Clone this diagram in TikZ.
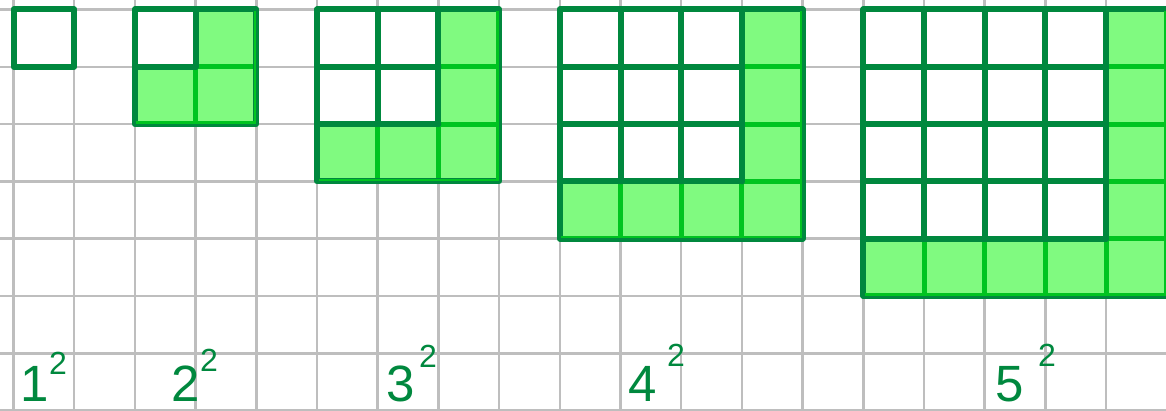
\documentclass[tikz,border=0pt]{standalone}
\usepackage{fontspec}
\setmainfont{Liberation Sans}
\definecolor{dkg}{RGB}{0,136,62}
\definecolor{brg}{RGB}{0,196,32}
\definecolor{ltg}{RGB}{128,250,128}
\definecolor{grd}{RGB}{190,190,190}
\tikzset{
  gridline/.style={grd,line width=2.5pt},
  dkline/.style={dkg,line width=6pt,line cap=round,line join=round},
  brline/.style={brg,line width=5pt,line cap=round},
  brrim/.style={brg,line width=2.5pt},
  digit/.style={dkg,inner sep=0pt,anchor=base west,text depth=0pt,text height=37pt,font=\fontsize{51}{51}\selectfont},
  supd/.style={dkg,inner sep=0pt,anchor=base west,text depth=0pt,text height=23pt,font=\fontsize{32}{32}\selectfont}
}
\newcommand\drawsq[2]{%
  \pgfmathtruncatemacro\nn{#1-1}%
  \ifnum#1>1
    \fill[ltg] ({13.5+60.7*(#2+#1-1)},9.5) rectangle ({13.5+60.7*(#2+#1)},{9.5+57.3*#1});
    \fill[ltg] ({13.5+60.7*#2},{9.5+57.3*(#1-1)}) rectangle ({13.5+60.7*(#2+#1)},{9.5+57.3*#1});
    \foreach \k in {1,...,\nn}{
      \draw[brline] ({13.5+60.7*(#2+\k)},{9.5+57.3*(#1-1)}) -- ++(0,57.3);
      \draw[brline] ({13.5+60.7*(#2+#1-1)},{9.5+57.3*\k}) -- ++(60.7,0);
    }
    \foreach \k in {1,...,\nn}{
      \draw[dkline] ({13.5+60.7*(#2+\k)},9.5) -- ({13.5+60.7*(#2+\k)},{9.5+57.3*(#1-1)});
      \draw[dkline] ({13.5+60.7*#2},{9.5+57.3*\k}) -- ({13.5+60.7*(#2+#1-1)},{9.5+57.3*\k});
    }
  \fi
  \draw[dkline] ({13.5+60.7*#2},9.5) rectangle ({13.5+60.7*(#2+#1)},{9.5+57.3*#1});
  \ifnum#1>1
    \draw[brrim] ({13.5+60.7*(#2+#1)-1.5},11) -- ({13.5+60.7*(#2+#1)-1.5},{9.5+57.3*#1-1.5})
                 -- ({13.5+60.7*#2+1.5},{9.5+57.3*#1-1.5});
  \fi
}
\begin{document}
\begin{tikzpicture}[x=1pt,y=-1pt]
\useasboundingbox (0,0) rectangle (1166,411);
\fill[white] (0,0) rectangle (1166,411);
\foreach \i in {0,...,18} \draw[gridline] ({13.5+60.7*\i},0) -- ({13.5+60.7*\i},411);
\foreach \j in {0,...,7} \draw[gridline] (0,{9.5+57.3*\j}) -- (1166,{9.5+57.3*\j});
\drawsq{1}{0}
\drawsq{2}{2}
\drawsq{3}{5}
\drawsq{4}{9}
\drawsq{5}{14}
\node[digit] (d1) at (20,401) {1};
\node[supd] (s1) at (49,374) {2};
\node[digit] (d2) at (171,401) {2};
\node[supd] (s2) at (200,371) {2};
\node[digit] (d3) at (386,401) {3};
\node[supd] (s3) at (419,367) {2};
\node[digit] (d4) at (628,401) {4};
\node[supd] (s4) at (667,366) {2};
\node[digit] (d5) at (995,401) {5};
\node[supd] (s5) at (1038,366) {2};
\end{tikzpicture}
\end{document}
